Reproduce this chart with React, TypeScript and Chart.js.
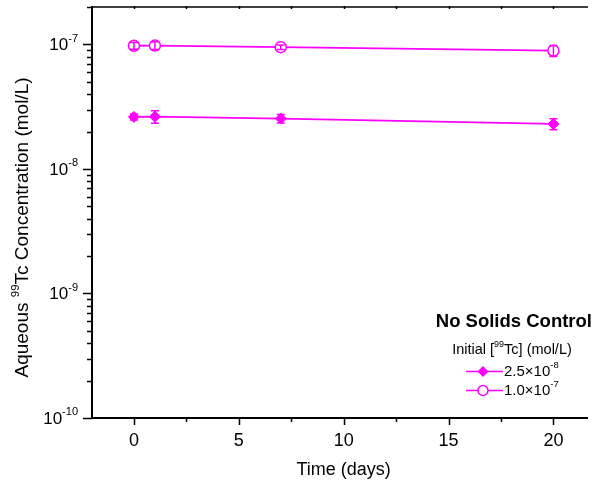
import React, { useEffect, useRef } from "react";
import { Chart, registerables } from "chart.js";
Chart.register(...registerables);

const days = [0, 1, 7, 20];
const lowSeries = [2.62e-8, 2.63e-8, 2.54e-8, 2.3e-8];
const lowErr = [0.15e-8, 0.3e-8, 0.2e-8, 0.23e-8];
const highSeries = [9.77e-8, 9.8e-8, 9.51e-8, 8.91e-8];
const highErr = [0.6e-8, 0.7e-8, 0.4e-8, 0.9e-8];
const xMajorTicks = [0, 5, 10, 15, 20];
const xMinorTicks = [2.5, 7.5, 12.5, 17.5];
const yDecades = [-10, -9, -8, -7];
const legendTitle = "No Solids Control";
const legendSub = ["Initial [", "99", "Tc] (mol/L)"];
const legendLabels = [
  ["2.5\u00d710", "-8"],
  ["1.0\u00d710", "-7"],
];

const MAG = "#ff00ff";
const FONT = "'Liberation Sans', Arial, sans-serif";

function supWidth(ctx: CanvasRenderingContext2D, base: string, sup: string, bs: number, ss: number) {
  ctx.font = `${bs}px ${FONT}`;
  const w1 = ctx.measureText(base).width;
  ctx.font = `${ss}px ${FONT}`;
  const w2 = ctx.measureText(sup).width;
  return w1 + w2;
}

function drawSup(
  ctx: CanvasRenderingContext2D,
  base: string,
  sup: string,
  x: number,
  y: number,
  bs: number,
  ss: number,
  rise: number
) {
  ctx.textAlign = "left";
  ctx.textBaseline = "middle";
  ctx.font = `${bs}px ${FONT}`;
  ctx.fillText(base, x, y);
  const w1 = ctx.measureText(base).width;
  ctx.font = `${ss}px ${FONT}`;
  ctx.fillText(sup, x + w1, y - rise);
}

const decor = {
  id: "decor",
  afterDatasetsDraw(chart: any) {
    const ctx: CanvasRenderingContext2D = chart.ctx;
    const xs = chart.scales.x;
    const ys = chart.scales.y;
    ctx.save();
    ctx.strokeStyle = MAG;
    ctx.lineWidth = 1.5;
    const sets = [
      [lowSeries, lowErr],
      [highSeries, highErr],
    ];
    for (const [vals, errs] of sets) {
      vals.forEach((v: number, j: number) => {
        const x = xs.getPixelForValue(days[j]);
        const yt = ys.getPixelForValue(v + errs[j]);
        const yb = ys.getPixelForValue(v - errs[j]);
        ctx.beginPath();
        ctx.moveTo(x, yt);
        ctx.lineTo(x, yb);
        ctx.moveTo(x - 4, yt);
        ctx.lineTo(x + 4, yt);
        ctx.moveTo(x - 4, yb);
        ctx.lineTo(x + 4, yb);
        ctx.stroke();
      });
    }
    ctx.restore();
  },
  afterDraw(chart: any) {
    const ctx: CanvasRenderingContext2D = chart.ctx;
    const xs = chart.scales.x;
    const ys = chart.scales.y;
    const { left, right, top, bottom } = chart.chartArea;
    ctx.save();
    ctx.strokeStyle = "#000";
    ctx.fillStyle = "#000";
    // frame
    ctx.lineWidth = 2;
    ctx.beginPath();
    ctx.moveTo(left, top - 1);
    ctx.lineTo(left, bottom);
    ctx.lineTo(right, bottom);
    ctx.stroke();
    ctx.lineWidth = 1.5;
    ctx.beginPath();
    ctx.moveTo(left, top);
    ctx.lineTo(right, top);
    ctx.stroke();
    // x ticks
    ctx.lineWidth = 1.5;
    ctx.beginPath();
    for (const t of xMajorTicks) {
      const x = Math.round(xs.getPixelForValue(t)) + 0.5;
      ctx.moveTo(x, bottom);
      ctx.lineTo(x, bottom + 7);
      ctx.moveTo(x, top - 1);
      ctx.lineTo(x, top + 2);
    }
    for (const t of xMinorTicks) {
      const x = Math.round(xs.getPixelForValue(t)) + 0.5;
      ctx.moveTo(x, bottom);
      ctx.lineTo(x, bottom + 4);
      ctx.moveTo(x, top - 1);
      ctx.lineTo(x, top + 2);
    }
    ctx.stroke();
    // y ticks
    ctx.beginPath();
    for (const e of yDecades) {
      const y = Math.round(ys.getPixelForValue(Math.pow(10, e))) + 0.5;
      ctx.moveTo(left, y);
      ctx.lineTo(left - 9, y);
      for (let m = 2; m <= 9; m++) {
        const v = m * Math.pow(10, e);
        if (v > ys.max) break;
        const yy = Math.round(ys.getPixelForValue(v)) + 0.5;
        ctx.moveTo(left, yy);
        ctx.lineTo(left - 5, yy);
      }
    }
    ctx.stroke();
    // x tick labels
    ctx.font = `18px ${FONT}`;
    ctx.textAlign = "center";
    ctx.textBaseline = "middle";
    for (const t of xMajorTicks) {
      ctx.fillText(String(t), xs.getPixelForValue(t), 441);
    }
    // x title
    ctx.fillText("Time (days)", xs.getPixelForValue(10), 470);
    // y tick labels
    for (const e of yDecades) {
      const y = ys.getPixelForValue(Math.pow(10, e));
      const w = supWidth(ctx, "10", String(e), 17, 11);
      drawSup(ctx, "10", String(e), 78 - w, y + 1, 17, 11, 7);
    }
    // y title
    ctx.save();
    ctx.translate(23, (top + bottom) / 2 + 15);
    ctx.rotate(-Math.PI / 2);
    {
      const bs = 19;
      const ss = 11.5;
      ctx.font = `${bs}px ${FONT}`;
      const a = "Aqueous ";
      const c = "Tc Concentration (mol/L)";
      const wa = ctx.measureText(a).width;
      const wc = ctx.measureText(c).width;
      ctx.font = `${ss}px ${FONT}`;
      const wb = ctx.measureText("99").width;
      let x = -(wa + wb + wc) / 2;
      ctx.textAlign = "left";
      ctx.textBaseline = "middle";
      ctx.font = `${bs}px ${FONT}`;
      ctx.fillText(a, x, 0);
      x += wa;
      ctx.font = `${ss}px ${FONT}`;
      ctx.fillText("99", x, -7.5);
      x += wb;
      ctx.font = `${bs}px ${FONT}`;
      ctx.fillText(c, x, 0);
    }
    ctx.restore();
    // legend
    ctx.font = `bold 18.5px ${FONT}`;
    ctx.textAlign = "right";
    ctx.textBaseline = "middle";
    ctx.fillText(legendTitle, 592, 322);
    {
      const bs = 14.5;
      const ss = 9;
      ctx.font = `${bs}px ${FONT}`;
      const w0 = ctx.measureText(legendSub[0]).width;
      const w2 = ctx.measureText(legendSub[2]).width;
      ctx.font = `${ss}px ${FONT}`;
      const w1 = ctx.measureText(legendSub[1]).width;
      let x = 512 - (w0 + w1 + w2) / 2;
      ctx.textAlign = "left";
      ctx.font = `${bs}px ${FONT}`;
      ctx.fillText(legendSub[0], x, 350);
      x += w0;
      ctx.font = `${ss}px ${FONT}`;
      ctx.fillText(legendSub[1], x, 345);
      x += w1;
      ctx.font = `${bs}px ${FONT}`;
      ctx.fillText(legendSub[2], x, 350);
    }
    legendLabels.forEach((lab, i) => {
      const y = i === 0 ? 371.5 : 390.5;
      ctx.strokeStyle = MAG;
      ctx.lineWidth = 1.5;
      ctx.beginPath();
      ctx.moveTo(466, y);
      ctx.lineTo(503, y);
      ctx.stroke();
      ctx.beginPath();
      if (i === 0) {
        ctx.moveTo(483, y - 5.5);
        ctx.lineTo(488.5, y);
        ctx.lineTo(483, y + 5.5);
        ctx.lineTo(477.5, y);
        ctx.closePath();
        ctx.fillStyle = MAG;
        ctx.fill();
      } else {
        ctx.arc(483, y, 5, 0, Math.PI * 2);
        ctx.fillStyle = "#fff";
        ctx.fill();
        ctx.stroke();
      }
      ctx.fillStyle = "#000";
      drawSup(ctx, lab[0], lab[1], 504, y, 15, 9.5, 6);
    });
    ctx.restore();
  },
};

export default function App() {
  const ref = useRef<HTMLCanvasElement | null>(null);
  useEffect(() => {
    if (!ref.current) return;
    const chart = new Chart(ref.current, {
      type: "line",
      data: {
        datasets: [
          {
            label: "2.5e-8",
            data: days.map((d, i) => ({ x: d, y: lowSeries[i] })),
            borderColor: MAG,
            backgroundColor: MAG,
            borderWidth: 1.8,
            pointStyle: "rectRot",
            pointRadius: 5.5,
            pointBorderWidth: 1,
            pointBackgroundColor: MAG,
            pointBorderColor: MAG,
          },
          {
            label: "1.0e-7",
            data: days.map((d, i) => ({ x: d, y: highSeries[i] })),
            borderColor: MAG,
            backgroundColor: "#fff",
            borderWidth: 1.8,
            pointStyle: "circle",
            pointRadius: 5.5,
            pointBorderWidth: 1.5,
            pointBackgroundColor: "#fff",
            pointBorderColor: MAG,
          },
        ],
      },
      options: {
        responsive: false,
        animation: false,
        devicePixelRatio: 1,
        layout: { padding: { top: 6, left: 0, right: 0, bottom: 0 } },
        plugins: { legend: { display: false }, tooltip: { enabled: false } },
        scales: {
          x: {
            type: "linear",
            min: -2,
            max: 21.65,
            grid: { display: false },
            border: { display: false },
            ticks: { display: false },
            afterFit: (s: any) => {
              s.height = 66;
            },
          },
          y: {
            type: "logarithmic",
            min: 1e-10,
            max: 2e-7,
            grid: { display: false },
            border: { display: false },
            ticks: { display: false },
            afterFit: (s: any) => {
              s.width = 92;
            },
          },
        },
      },
      plugins: [decor],
    });
    return () => chart.destroy();
  }, []);
  return (
    <div style={{ position: "fixed", left: 0, top: 0, width: 595, height: 484, background: "#fff" }}>
      <canvas ref={ref} width={595} height={484} style={{ display: "block" }} />
    </div>
  );
}
